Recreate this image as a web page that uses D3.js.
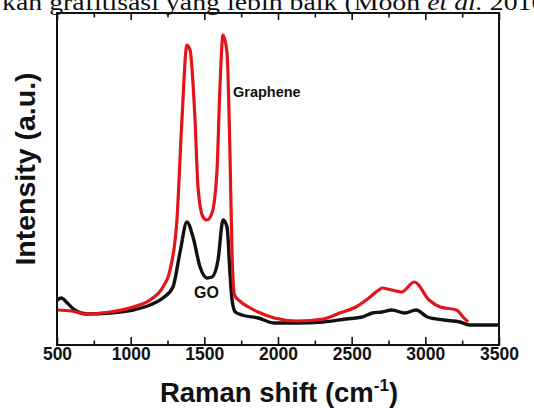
<!DOCTYPE html>
<html>
<head>
<meta charset="utf-8">
<script src="https://cdn.jsdelivr.net/npm/d3@7"></script>
<style>
  html, body { margin: 0; padding: 0; background: #fff; }
  svg { display: block; }
</style>
</head>
<body>
<svg id="chart" width="534" height="408"></svg>
<script>
// ---- Data ----
// Raman shift (cm^-1)
const grapheneShift = [500, 600, 700, 860, 1016, 1131, 1219, 1267, 1314, 1348, 1382, 1403, 1437, 1457, 1491, 1518, 1552, 1586, 1606, 1627, 1654, 1674, 1688, 1705, 1740, 1800, 1865, 1976, 2130, 2307, 2418, 2529, 2617, 2684, 2706, 2772, 2838, 2926, 3025, 3102, 3212, 3256, 3290];
// Intensity (a.u.)
const grapheneIntensity = [35, 34, 31, 33, 38, 45, 58, 75, 125, 225, 300, 295, 225, 158, 128, 125, 132, 175, 258, 310, 292, 192, 92, 50, 44, 38, 33, 27, 24, 26, 32, 38, 47, 55, 57, 55, 53, 63, 45, 38, 35, 28, 23];

const goShift = [500, 530, 570, 620, 700, 860, 1016, 1131, 1219, 1287, 1334, 1382, 1423, 1471, 1518, 1552, 1593, 1627, 1654, 1674, 1688, 1710, 1754, 1865, 1976, 2130, 2307, 2462, 2573, 2640, 2706, 2772, 2860, 2937, 3014, 3124, 3235, 3300, 3500];
const goIntensity = [45, 47, 42, 35, 31, 32, 35, 40, 47, 58, 92, 123, 108, 78, 67, 68, 85, 125, 118, 72, 45, 33, 30, 27, 22, 22, 23, 26, 28, 32, 33, 35, 32, 35, 28, 25, 23, 20, 20];

const majorTicks = [500, 1000, 1500, 2000, 2500, 3000, 3500];
const minorTicks = [750, 1250, 1750, 2250, 2750, 3250];
const seriesNames = ["Graphene", "GO"];
const seriesColors = ["#e3151b", "#111111"];

// ---- Layout ----
const mLeft = 57, mRight = 499, mTop = 13, mBottom = 345;
const svg = d3.select("#chart");

const x = d3.scaleLinear().domain([500, 3500]).range([mLeft, mRight]);
const y = d3.scaleLinear().domain([0, 332]).range([mBottom, mTop]);

// caption fragment at the top (cropped document text)
const cap = svg.append("text")
  .attr("transform", "translate(2,10) scale(1.16,1)")
  .attr("font-family", "'Liberation Serif', 'DejaVu Serif', serif")
  .attr("font-size", 24)
  .attr("fill", "#111");
cap.append("tspan").text("kan grafitisasi yang lebih baik (Moon ");
cap.append("tspan").attr("font-style", "italic").text("et al.");
cap.append("tspan").text(" 2010)");

// lines
const line = d3.line()
  .x(d => x(d[0]))
  .y(d => y(d[1]))
  .curve(d3.curveMonotoneX);

const goData = goShift.map((s, i) => [s, goIntensity[i]]);
const grData = grapheneShift.map((s, i) => [s, grapheneIntensity[i]]);

svg.append("path").datum(goData)
  .attr("d", line).attr("fill", "none")
  .attr("stroke", seriesColors[1]).attr("stroke-width", 3.4)
  .attr("stroke-linejoin", "round");
svg.append("path").datum(grData)
  .attr("d", line).attr("fill", "none")
  .attr("stroke", seriesColors[0]).attr("stroke-width", 3.2)
  .attr("stroke-linejoin", "round");

// axes
const tickFont = "'Liberation Sans', Arial, sans-serif";
const gB = svg.append("g").attr("transform", `translate(0,${mBottom})`)
  .call(d3.axisBottom(x).tickValues(majorTicks).tickSize(-8).tickPadding(3).tickFormat(d3.format("d")));
const gBm = svg.append("g").attr("transform", `translate(0,${mBottom})`)
  .call(d3.axisBottom(x).tickValues(minorTicks).tickSize(-4.5).tickFormat(""));
const gT = svg.append("g").attr("transform", `translate(0,${mTop})`)
  .call(d3.axisTop(x).tickValues(majorTicks).tickSize(-7).tickFormat(""));
const gTm = svg.append("g").attr("transform", `translate(0,${mTop})`)
  .call(d3.axisTop(x).tickValues(minorTicks).tickSize(-4.5).tickFormat(""));
[gB, gBm, gT, gTm].forEach(g => {
  g.select(".domain").remove();
  g.selectAll(".tick line").attr("stroke", "#111").attr("stroke-width", 1.6);
});
gB.selectAll(".tick text")
  .attr("font-family", tickFont).attr("font-weight", "bold")
  .attr("font-size", 17.5).attr("fill", "#111");

// frame
svg.append("rect")
  .attr("x", mLeft).attr("y", mTop)
  .attr("width", mRight - mLeft).attr("height", mBottom - mTop)
  .attr("fill", "none").attr("stroke", "#111").attr("stroke-width", 2);

// axis titles
const xt = svg.append("text")
  .attr("x", 279).attr("y", 402)
  .attr("text-anchor", "middle")
  .attr("font-family", tickFont).attr("font-weight", "bold")
  .attr("font-size", 27.5).attr("fill", "#111");
xt.append("tspan").text("Raman shift (cm");
xt.append("tspan").attr("dy", -11).attr("font-size", 17).text("-1");
xt.append("tspan").attr("dy", 11).text(")");

svg.append("text")
  .attr("transform", "translate(35,169) rotate(-90)")
  .attr("text-anchor", "middle")
  .attr("font-family", tickFont).attr("font-weight", "bold")
  .attr("font-size", 28.5).attr("fill", "#111")
  .text("Intensity (a.u.)");

// series labels
svg.append("text")
  .attr("x", 233).attr("y", 97)
  .attr("font-family", tickFont).attr("font-weight", "bold")
  .attr("font-size", 14.5).attr("fill", "#111")
  .text(seriesNames[0]);
svg.append("text")
  .attr("x", 206.5).attr("y", 298).attr("text-anchor", "middle")
  .attr("font-family", tickFont).attr("font-weight", "bold")
  .attr("font-size", 16).attr("fill", "#111")
  .text(seriesNames[1]);
</script>
</body>
</html>
